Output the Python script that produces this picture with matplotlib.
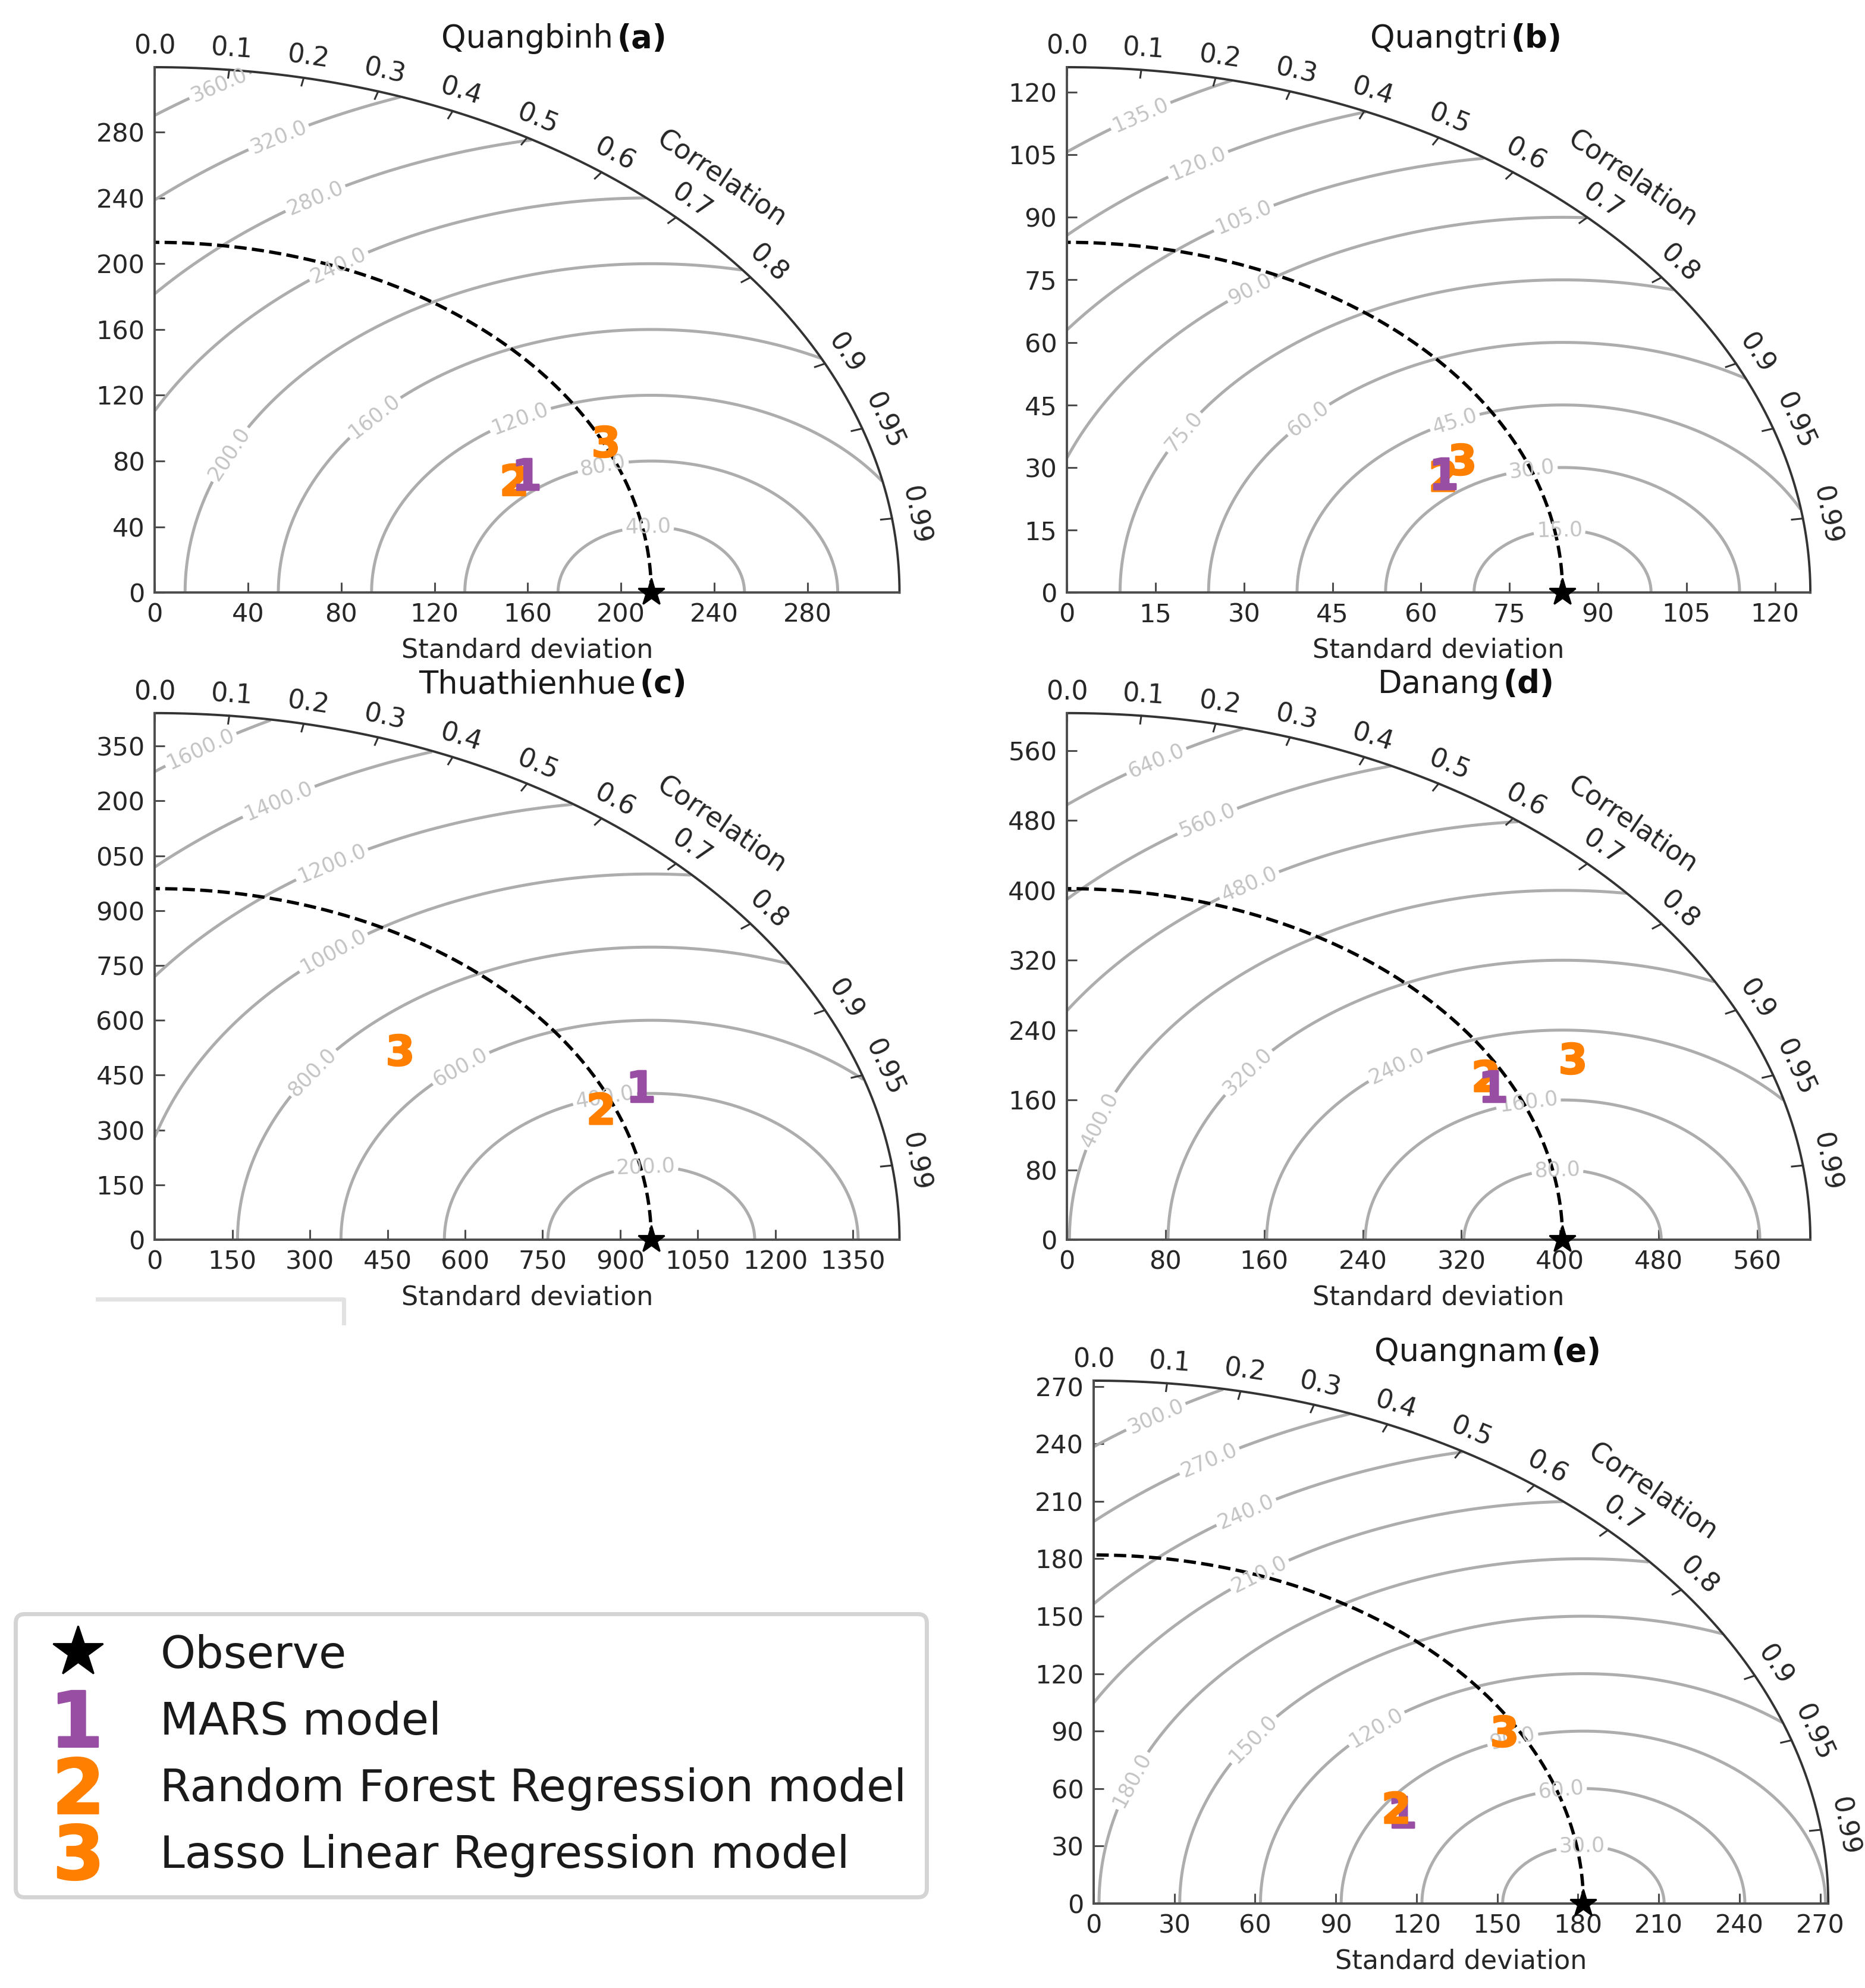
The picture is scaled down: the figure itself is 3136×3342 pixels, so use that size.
import numpy as np
import matplotlib
matplotlib.use('Agg')
import matplotlib.pyplot as plt
from matplotlib.lines import Line2D

# stations and panel tags
stations = ['Quangbinh', 'Quangtri', 'Thuathienhue', 'Danang', 'Quangnam']
tags = ['(a)', '(b)', '(c)', '(d)', '(e)']

# observed standard deviation per station
obs_std = [213.0, 84.0, 960.0, 402.0, 182.0]

# models: std and correlation per station
model_names = ['MARS model', 'Random Forest Regression model', 'Lasso Linear Regression model']
std_mars = [175.4, 70.1, 1030.8, 388.5, 124.5]
cor_mars = [0.912, 0.913, 0.913, 0.892, 0.923]
std_rf = [168.7, 69.6, 934.2, 388.0, 123.1]
cor_rf = [0.913, 0.915, 0.923, 0.875, 0.913]
std_lasso = [214.0, 74.2, 702.7, 459.5, 177.2]
cor_lasso = [0.903, 0.902, 0.673, 0.892, 0.861]

# centred RMS contour levels
rms_levels = [
    [40, 80, 120, 160, 200, 240, 280, 320, 360],
    [15, 30, 45, 60, 75, 90, 105, 120, 135],
    [200, 400, 600, 800, 1000, 1200, 1400, 1600],
    [80, 160, 240, 320, 400, 480, 560, 640],
    [30, 60, 90, 120, 150, 180, 210, 240, 270, 300],
]

# std axis ticks
std_ticks = [
    [0, 40, 80, 120, 160, 200, 240, 280],
    [0, 15, 30, 45, 60, 75, 90, 105, 120],
    [0, 150, 300, 450, 600, 750, 900, 1050, 1200, 1350],
    [0, 80, 160, 240, 320, 400, 480, 560],
    [0, 30, 60, 90, 120, 150, 180, 210, 240, 270],
]
# left labels of (c) are cut off in the figure
ytick_text_c = ['0', '150', '300', '450', '600', '750', '900', '050', '200', '350']

corr_ticks = [0.0, 0.1, 0.2, 0.3, 0.4, 0.5, 0.6, 0.7, 0.8, 0.9, 0.95, 0.99]

# layout
rects = [
    [0.0830, 0.7019, 0.3993, 0.2643],
    [0.5721, 0.7019, 0.3986, 0.2643],
    [0.0830, 0.3764, 0.3993, 0.2649],
    [0.5721, 0.3764, 0.3986, 0.2649],
    [0.5864, 0.0425, 0.3939, 0.2630],
]
# angle (deg, seen from the observed point) where each contour label sits
label_angles = [
    [92, 105, 118, 138, 155, 124, 121, 120, 121],
    [92, 100, 114, 136, 149, 126, 121, 121, 122],
    [93, 103, 128, 145, 128, 121, 121, 123],
    [93, 100, 124, 143, 160, 122, 121, 121],
    [91, 98, 107, 130, 145, 159, 125, 121.5, 121, 122],
]
# drawing order of models per panel (last one ends up on top)
draw_order = [[1, 0, 2], [1, 0, 2], [1, 0, 2], [1, 0, 2], [0, 1, 2]]

c_purple = '#984ea3'
c_orange = '#ff7f00'
model_colors = [c_purple, c_orange, c_orange]
model_std = [std_mars, std_rf, std_lasso]
model_cor = [cor_mars, cor_rf, cor_lasso]

fig = plt.figure(figsize=(15.68, 16.71), dpi=200)

axes = []
t = np.linspace(0, np.pi / 2, 400)
for i in range(5):
    ref = obs_std[i]
    smax = 1.5 * ref
    ax = fig.add_axes(rects[i])
    axes.append(ax)
    ax.set_xlim(0, smax)
    ax.set_ylim(0, smax)
    for s in ['top', 'right']:
        ax.spines[s].set_visible(False)
    for s in ['left', 'bottom']:
        ax.spines[s].set_color('0.3')
        ax.spines[s].set_linewidth(1.4)
    ax.set_xticks(std_ticks[i])
    ax.set_yticks(std_ticks[i])
    if i == 2:
        ax.set_yticklabels(ytick_text_c)
    ax.tick_params(direction='in', length=6, width=1.1, color='0.3',
                   labelsize=15.5, labelcolor='0.15', pad=6)
    ax.set_xlabel('Standard deviation', fontsize=16, color='0.15', labelpad=6)

    # RMS contours
    g = np.linspace(0, smax, 600)
    X, Y = np.meshgrid(g, g)
    R = np.hypot(X - ref, Y)
    R = np.ma.masked_where(np.hypot(X, Y) > smax, R)
    cs = ax.contour(X, Y, R, levels=rms_levels[i], colors='#adadad', linewidths=1.8)
    pos = [(ref + L * np.cos(np.radians(a)), L * np.sin(np.radians(a)))
           for L, a in zip(rms_levels[i], label_angles[i])]
    ax.clabel(cs, rms_levels[i], manual=pos, inline=True, fmt='%.1f',
              fontsize=12.5, colors='#c4c4c4')

    # outer correlation arc
    ax.plot(smax * np.cos(t), smax * np.sin(t), color='0.2', lw=1.4, clip_on=False)
    for c in corr_ticks:
        th = np.arccos(c)
        ax.plot([smax * np.cos(th), 0.985 * smax * np.cos(th)],
                [smax * np.sin(th), 0.985 * smax * np.sin(th)],
                color='0.2', lw=1.1, clip_on=False)
        ax.text(1.015 * smax * np.cos(th), 1.015 * smax * np.sin(th), str(c),
                rotation=np.degrees(th) - 90, transform_rotates_text=True,
                rotation_mode='anchor', ha='center', va='bottom',
                fontsize=16, color='0.15')
    th = np.radians(46)
    ax.text(1.095 * smax * np.cos(th), 1.095 * smax * np.sin(th), 'Correlation',
            rotation=-44, transform_rotates_text=True, rotation_mode='anchor',
            ha='center', va='center', fontsize=16.5, color='0.15')

    # reference circle and observed point
    ax.plot(ref * np.cos(t), ref * np.sin(t), 'k--', lw=2.0)
    ax.plot(ref, 0, 'k*', ms=17, clip_on=False, zorder=6)

    for n, k in enumerate(draw_order[i]):
        s = model_std[k][i]
        r = model_cor[k][i]
        ax.plot(s * r, s * np.sin(np.arccos(r)), ls='none',
                marker='$\\mathbf{%d}$' % (k + 1), ms=19,
                color=model_colors[k], zorder=5 + n * 0.1)

    ax.set_title(stations[i], fontsize=19, pad=12, color='0.1')

# bold panel tags after the station names
fig.canvas.draw()
renderer = fig.canvas.get_renderer()
for ax, tag in zip(axes, tags):
    title = ax.title
    bb = title.get_window_extent(renderer)
    xa = ax.transAxes.inverted().transform((bb.x1, bb.y0))[0]
    ax.text(xa + 0.005, title.get_position()[1], tag, transform=title.get_transform(),
            ha='left', va='baseline', fontsize=19, fontweight='bold', color='0.05')

# legend
handles = [Line2D([], [], ls='none', marker='*', color='k', ms=32)]
for k in range(3):
    handles.append(Line2D([], [], ls='none', marker='$\\mathbf{%d}$' % (k + 1),
                          color=model_colors[k], ms=34))
leg = fig.legend(handles, ['Observe'] + model_names, loc='lower left',
                 bbox_to_anchor=(0.0082, 0.0457), fontsize=27, frameon=True,
                 fancybox=True, framealpha=1, edgecolor='#d4d4d4',
                 borderpad=0.45, labelspacing=0.52, handlelength=1.9,
                 handletextpad=0.9, borderaxespad=0)
leg.get_frame().set_linewidth(2.5)
for txt in leg.get_texts():
    txt.set_color('0.1')

# leftover frame edge under panel (c)
fig.add_artist(Line2D([164 / 3136, 578 / 3136, 578 / 3136],
                      [1 - 2184 / 3342, 1 - 2184 / 3342, 1 - 2224 / 3342],
                      transform=fig.transFigure, color='#e2e2e2', lw=2.5))

fig.savefig('out.png', dpi=200)
